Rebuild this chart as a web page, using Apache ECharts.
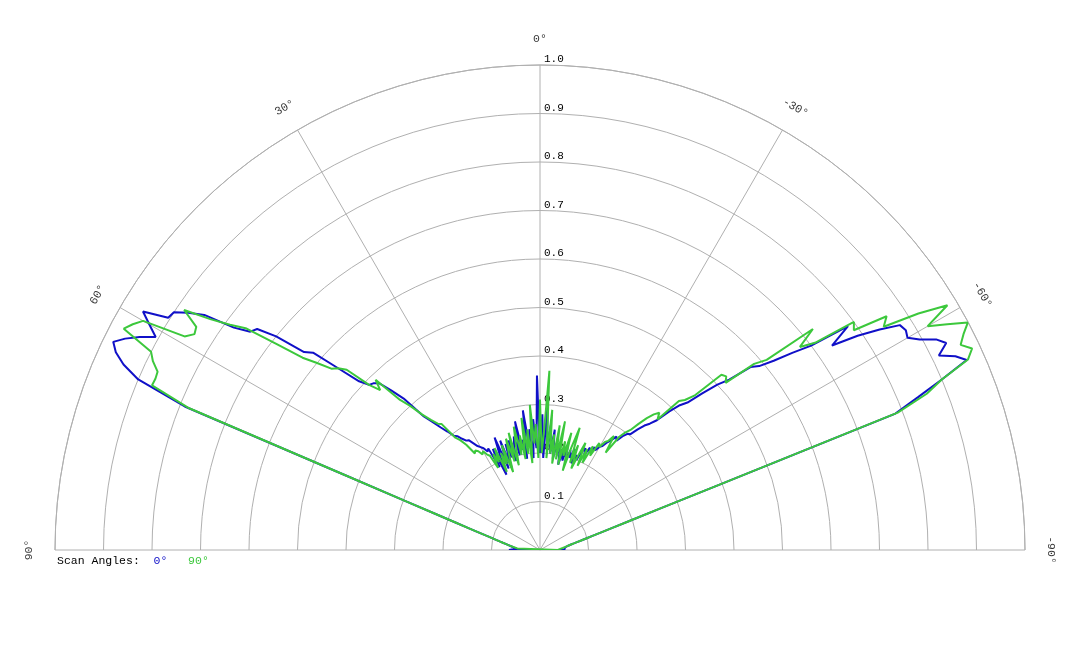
<!DOCTYPE html>
<html>
<head>
<meta charset="utf-8">
<title>Scan pattern</title>
<script src="https://cdn.jsdelivr.net/npm/echarts@6/dist/echarts.min.js"></script>
<style>
  html, body { margin: 0; padding: 0; background: #fff; }
  #main { width: 1080px; height: 648px; }
</style>
</head>
<body>
<div id="main"></div>
<script>
// sample angles in degrees (positive = left of broadside)
var scanDeg = [
  -90, -89, -88, -87, -86, -85, -84, -83, -82, -81, -80, -79, -78, -77, -76, -75, -74, -73, -72, -71,
  -70, -69, -68, -67, -66, -65, -64, -63, -62, -61, -60, -59, -58, -57, -56, -55, -54, -53, -52, -51,
  -50, -49, -48, -47, -46, -45, -44, -43, -42, -41, -40, -39, -38, -37, -36, -35, -34, -33, -32, -31,
  -30, -29, -28, -27, -26, -25, -24, -23, -22, -21, -20, -19, -18, -17, -16, -15, -14, -13, -12, -11,
  -10, -9, -8, -7, -6, -5, -4, -3, -2, -1, 0, 1, 2, 3, 4, 5, 6, 7, 8, 9,
  10, 11, 12, 13, 14, 15, 16, 17, 18, 19, 20, 21, 22, 23, 24, 25, 26, 27, 28, 29,
  30, 31, 32, 33, 34, 35, 36, 37, 38, 39, 40, 41, 42, 43, 44, 45, 46, 47, 48, 49,
  50, 51, 52, 53, 54, 55, 56, 57, 58, 59, 60, 61, 62, 63, 64, 65, 66, 67, 68, 69,
  70, 71, 72, 73, 74, 75, 76, 77, 78, 79, 80, 81, 82, 83, 84, 85, 86, 87, 88, 89,
  90
];

// scan angle 0 deg (blue)
var scan0 = [
  0.05, 0.05, 0.05, 0.05, 0.05, 0.051, 0.052, 0.053, 0.056, 0.06, 0.065, 0.071, 0.078, 0.087, 0.098, 0.112, 0.13, 0.156, 0.195, 0.26,
  0.39, 0.785, 0.84, 0.9, 0.963, 0.945, 0.915, 0.94, 0.925, 0.895, 0.875, 0.88, 0.875, 0.835, 0.79, 0.735, 0.785, 0.7, 0.66, 0.62,
  0.59, 0.575, 0.525, 0.5, 0.465, 0.43, 0.415, 0.39, 0.36, 0.345, 0.335, 0.32, 0.303, 0.3, 0.29, 0.275, 0.282, 0.27, 0.262, 0.25,
  0.246, 0.235, 0.24, 0.225, 0.235, 0.215, 0.23, 0.22, 0.2, 0.21, 0.19, 0.22, 0.2, 0.215, 0.19, 0.22, 0.19, 0.21, 0.18, 0.22,
  0.2, 0.225, 0.19, 0.25, 0.2, 0.26, 0.21, 0.3, 0.19, 0.28, 0.2, 0.36, 0.21, 0.27, 0.19, 0.25, 0.22, 0.29, 0.19, 0.23,
  0.21, 0.27, 0.2, 0.24, 0.22, 0.19, 0.235, 0.2, 0.23, 0.18, 0.24, 0.18, 0.25, 0.21, 0.17, 0.23, 0.19, 0.235, 0.23, 0.24,
  0.245, 0.25, 0.25, 0.27, 0.272, 0.28, 0.29, 0.295, 0.31, 0.325, 0.345, 0.365, 0.42, 0.45, 0.478, 0.486, 0.49, 0.51, 0.56, 0.62,
  0.635, 0.7, 0.74, 0.748, 0.78, 0.845, 0.875, 0.9, 0.904, 0.955, 0.93, 0.906, 0.935, 0.96, 0.979, 0.965, 0.94, 0.9, 0.79, 0.43,
  0.295, 0.225, 0.182, 0.153, 0.132, 0.116, 0.103, 0.093, 0.085, 0.078, 0.072, 0.067, 0.063, 0.059, 0.056, 0.053, 0.05, 0.048, 0.05, 0.058,
  0.064
];

// scan angle 90 deg (green)
var scan90 = [
  0.037, 0.038, 0.04, 0.042, 0.044, 0.047, 0.05, 0.053, 0.056, 0.06, 0.065, 0.071, 0.078, 0.087, 0.098, 0.112, 0.13, 0.156, 0.195, 0.26,
  0.39, 0.79, 0.86, 0.9, 0.966, 0.983, 0.965, 0.98, 0.999, 0.96, 0.923, 0.98, 0.92, 0.845, 0.862, 0.79, 0.8, 0.71, 0.68, 0.724,
  0.61, 0.585, 0.515, 0.525, 0.52, 0.45, 0.43, 0.42, 0.362, 0.375, 0.365, 0.35, 0.33, 0.31, 0.3, 0.285, 0.242, 0.28, 0.265, 0.26,
  0.245, 0.252, 0.22, 0.24, 0.2, 0.23, 0.19, 0.24, 0.21, 0.18, 0.23, 0.19, 0.265, 0.22, 0.17, 0.25, 0.2, 0.23, 0.18, 0.27,
  0.19, 0.26, 0.18, 0.24, 0.2, 0.29, 0.19, 0.37, 0.25, 0.2, 0.31, 0.19, 0.26, 0.22, 0.3, 0.18, 0.25, 0.2, 0.275, 0.19,
  0.24, 0.2, 0.26, 0.22, 0.18, 0.25, 0.19, 0.24, 0.205, 0.17, 0.23, 0.19, 0.215, 0.175, 0.23, 0.2, 0.22, 0.19, 0.22, 0.225,
  0.235, 0.23, 0.24, 0.245, 0.24, 0.265, 0.28, 0.29, 0.33, 0.335, 0.35, 0.37, 0.4, 0.423, 0.488, 0.466, 0.49, 0.545, 0.56, 0.57,
  0.6, 0.63, 0.69, 0.76, 0.79, 0.83, 0.885, 0.845, 0.84, 0.855, 0.945, 0.96, 0.972, 0.9, 0.888, 0.87, 0.868, 0.869, 0.78, 0.43,
  0.295, 0.225, 0.182, 0.153, 0.132, 0.116, 0.103, 0.093, 0.085, 0.078, 0.072, 0.067, 0.062, 0.058, 0.054, 0.05, 0.047, 0.045, 0.045, 0.046,
  0.047
];

var angleTicks = [-90, -60, -30, 0, 30, 60, 90];

var BLUE = '#1010c8';
var GREEN = '#3cc83c';
var GRID = '#b0b0b0';
var MONO = '"Courier New", "Liberation Mono", monospace';

// pair up [radius, angle] and close the loop back to the first sample
function toPolar(vals) {
    var out = [];
    for (var i = 0; i < vals.length; i++) {
        out.push([vals[i], scanDeg[i]]);
    }
    out.push([vals[0], scanDeg[0]]);
    return out;
}

var chart = echarts.init(document.getElementById('main'));

var option = {
    backgroundColor: '#fff',
    animation: false,
    title: {
        left: 57,
        top: 555,
        padding: 0,
        text: '{k|Scan Angles:}  {b|0°}   {g|90°}',
        textStyle: {
            fontFamily: MONO,
            fontSize: 11.5,
            fontWeight: 'normal',
            rich: {
                k: { color: '#000', fontFamily: MONO, fontSize: 11.5 },
                b: { color: BLUE, fontFamily: MONO, fontSize: 11.5 },
                g: { color: GREEN, fontFamily: MONO, fontSize: 11.5 }
            }
        }
    },
    polar: [
        { center: [540, 550], radius: 485 },
        { center: [540, 550], radius: 485 }
    ],
    angleAxis: [
        {
            polarIndex: 0,
            type: 'value',
            min: -90,
            max: 90,
            interval: 30,
            startAngle: 0,
            endAngle: 180,
            clockwise: false,
            axisLine: { show: true, lineStyle: { color: GRID, width: 1 } },
            axisTick: { show: false },
            axisLabel: { show: false },
            splitLine: { show: true, lineStyle: { color: GRID, width: 1 } }
        },
        {
            polarIndex: 1,
            type: 'value',
            min: 0,
            max: 360,
            startAngle: 90,
            show: false
        }
    ],
    radiusAxis: [
        {
            polarIndex: 0,
            type: 'value',
            min: 0,
            max: 1,
            interval: 0.1,
            axisLine: { show: false },
            axisTick: { show: false },
            axisLabel: { show: false },
            splitLine: { show: true, lineStyle: { color: GRID, width: 1 } }
        },
        {
            polarIndex: 1,
            type: 'value',
            min: 0,
            max: 1,
            interval: 0.1,
            axisLine: { show: false },
            axisTick: { show: false },
            splitLine: { show: false },
            axisLabel: {
                show: true,
                margin: -4,
                align: 'left',
                verticalAlign: 'bottom',
                color: '#000',
                fontFamily: MONO,
                fontSize: 11,
                showMinLabel: false,
                formatter: function (v) { return v === 0 ? '' : v.toFixed(1); }
            }
        }
    ],
    series: [
        {
            name: '0°',
            type: 'line',
            coordinateSystem: 'polar',
            polarIndex: 0,
            showSymbol: false,
            symbol: 'none',
            lineStyle: { color: BLUE, width: 2 },
            itemStyle: { color: BLUE },
            data: toPolar(scan0)
        },
        {
            name: '90°',
            type: 'line',
            coordinateSystem: 'polar',
            polarIndex: 0,
            showSymbol: false,
            symbol: 'none',
            lineStyle: { color: GREEN, width: 2 },
            itemStyle: { color: GREEN },
            data: toPolar(scan90)
        },
        {
            // angle tick labels, turned along the outer ring
            type: 'scatter',
            coordinateSystem: 'polar',
            polarIndex: 0,
            clip: false,
            silent: true,
            symbolSize: 1,
            itemStyle: { color: '#fff' },
            label: {
                show: true,
                position: 'inside',
                color: '#000',
                textBorderWidth: 0,
                fontFamily: MONO,
                fontSize: 11.5,
                formatter: function (p) { return p.value[1] + '°'; }
            },
            data: angleTicks.map(function (a) {
                return { value: [1.053, a], label: { rotate: a } };
            })
        }
    ]
};

chart.setOption(option);
</script>
</body>
</html>
